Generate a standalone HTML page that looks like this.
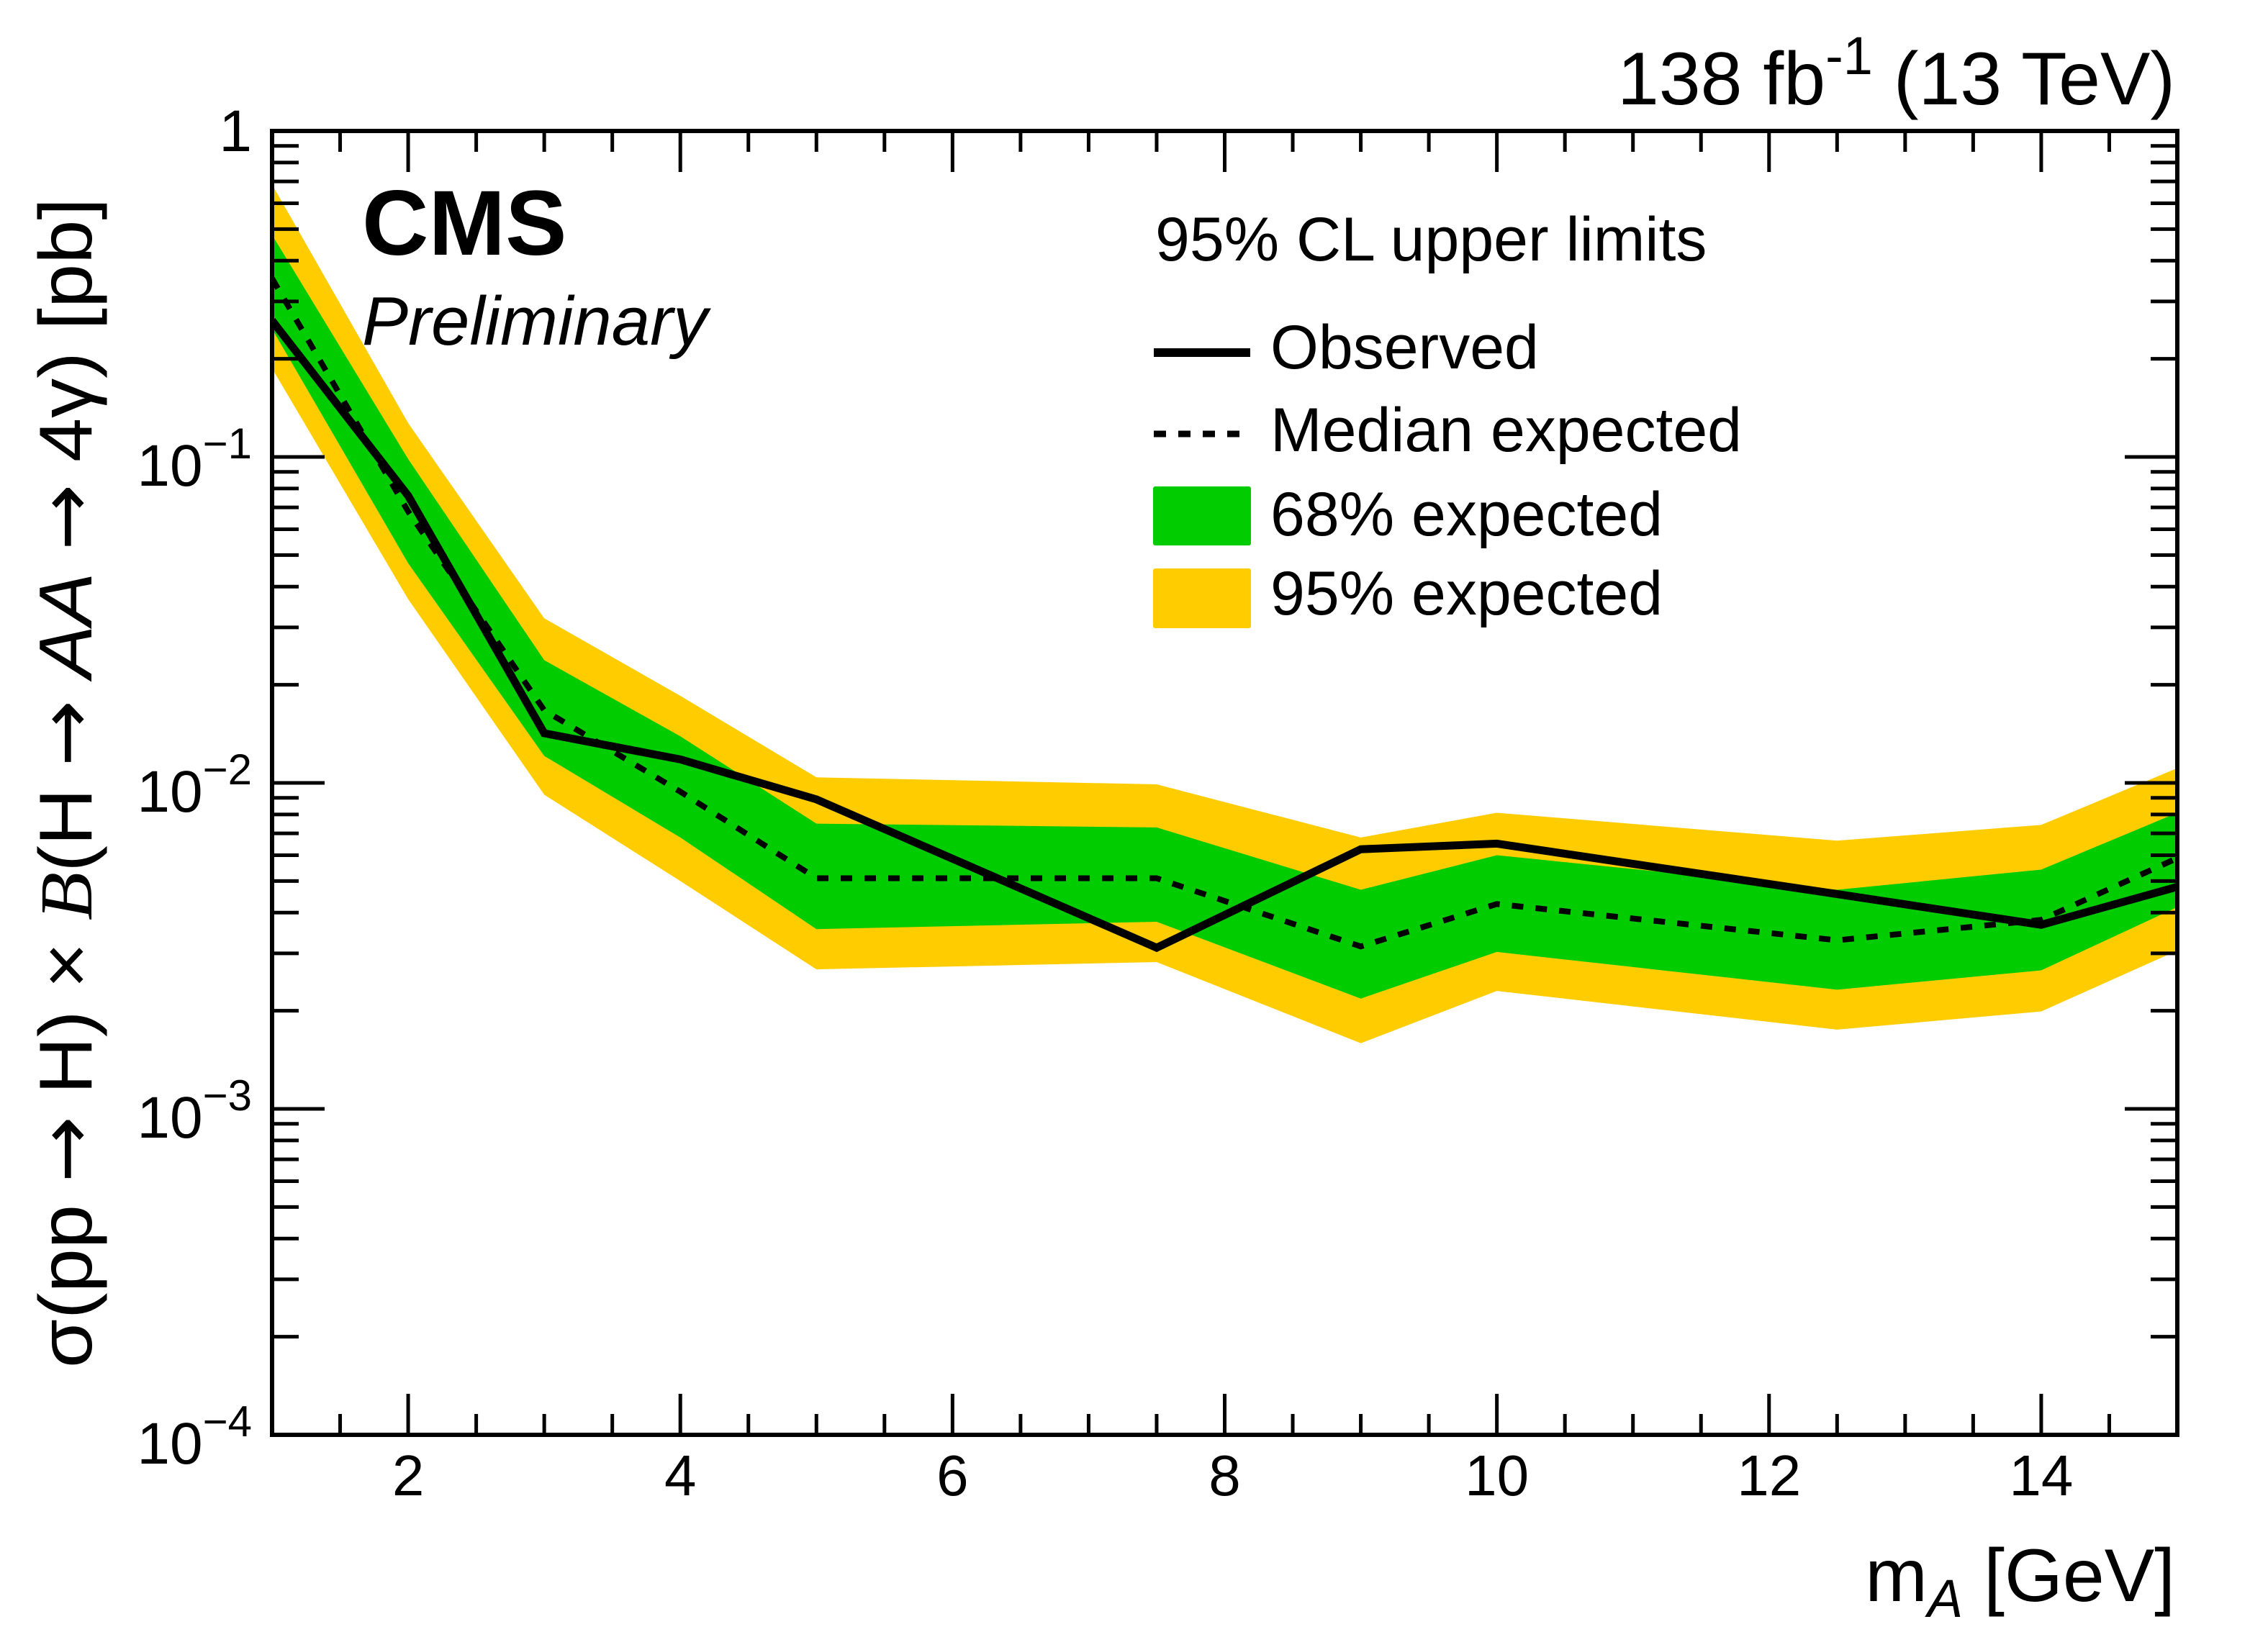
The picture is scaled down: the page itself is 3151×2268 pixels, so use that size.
<!DOCTYPE html>
<html><head><meta charset="utf-8">
<style>
html,body{margin:0;padding:0;background:#fff;}
svg{display:block;font-family:"Liberation Sans",Arial,sans-serif;}
.arr{font-family:"DejaVu Sans",sans-serif;}
</style></head>
<body>
<svg id="chart" width="3151" height="2268" viewBox="0 0 3151 2268" xmlns="http://www.w3.org/2000/svg">
<rect x="0" y="0" width="3151" height="2268" fill="#fff"/>
<g id="bands"></g>
<g id="lines"></g>
<g id="axes"></g>
<text x="3022" y="145" font-size="104" text-anchor="end">138 fb<tspan dy="-42" font-size="74">-1</tspan><tspan dy="42"> (13 TeV)</tspan></text>
<text x="503" y="354" font-size="128" font-weight="bold">CMS</text>
<text x="503" y="479" font-size="96" font-style="italic">Preliminary</text>
<g>
<text x="1605" y="362" font-size="86">95% CL upper limits</text>
<line x1="1603" y1="490" x2="1737" y2="490" stroke="#000" stroke-width="12"/>
<text x="1765" y="512" font-size="86">Observed</text>
<line x1="1603" y1="603" x2="1722" y2="603" stroke="#000" stroke-width="9" stroke-dasharray="17 17"/>
<text x="1765" y="627" font-size="86">Median expected</text>
<rect x="1602" y="676" width="136" height="82" rx="3" fill="#00cc00"/>
<text x="1765" y="744" font-size="86">68% expected</text>
<rect x="1602" y="790" width="136" height="83" rx="3" fill="#ffcc00"/>
<text x="1765" y="854" font-size="86">95% expected</text>
</g>
<text x="3022" y="2225" font-size="104" text-anchor="end">m<tspan dy="22" font-size="74" font-style="italic">A</tspan><tspan dy="-22"> [GeV]</tspan></text>
<text transform="translate(127,1088) rotate(-90)" font-size="104" text-anchor="middle" textLength="1626" lengthAdjust="spacingAndGlyphs">σ(pp <tspan class="arr">→</tspan> H) × <tspan font-family="Liberation Serif" font-style="italic">B</tspan>(H <tspan class="arr">→</tspan> <tspan font-style="italic">AA</tspan> <tspan class="arr">→</tspan> 4γ) [pb]</text>
</svg>
<script>
const masses = [1, 2, 3, 4, 5, 7.5, 9, 10, 12.5, 14, 15];
const observed = [0.262, 0.076, 0.0142, 0.0118, 0.0089, 0.00312, 0.00626, 0.00651, 0.00456, 0.00367, 0.0048];
const median = [0.353, 0.068, 0.0167, 0.0094, 0.0051, 0.0051, 0.00315, 0.00425, 0.00329, 0.0038, 0.00588];
const band68Hi = [0.48, 0.0985, 0.0238, 0.0139, 0.0075, 0.0073, 0.0047, 0.006, 0.0047, 0.00542, 0.0081];
const band68Lo = [0.247, 0.0472, 0.0121, 0.0068, 0.00356, 0.00375, 0.00218, 0.00303, 0.00232, 0.00266, 0.00416];
const band95Hi = [0.685, 0.127, 0.032, 0.0185, 0.0104, 0.0099, 0.0068, 0.0081, 0.00665, 0.00743, 0.0111];
const band95Lo = [0.187, 0.0366, 0.0092, 0.005, 0.00268, 0.00282, 0.00159, 0.0023, 0.00175, 0.00199, 0.00306];
const xTickLabels = [2, 4, 6, 8, 10, 12, 14];
const yDecades = [0, -1, -2, -3, -4];

const L = 378, R = 3025, T = 182, B = 1994;
const xMin = 1, xMax = 15, yLogMax = 0, yLogMin = -4;
const NS = 'http://www.w3.org/2000/svg';
function xs(m) { return L + (m - xMin) / (xMax - xMin) * (R - L); }
function ys(v) { return T + (yLogMax - Math.log10(v)) / (yLogMax - yLogMin) * (B - T); }
function mk(tag, attrs, parent) {
  const e = document.createElementNS(NS, tag);
  for (const k in attrs) e.setAttribute(k, attrs[k]);
  parent.appendChild(e);
  return e;
}
function bandPath(hi, lo) {
  let d = '';
  masses.forEach((m, i) => { d += (i ? 'L' : 'M') + xs(m).toFixed(1) + ',' + ys(hi[i]).toFixed(1); });
  for (let i = masses.length - 1; i >= 0; i--) d += 'L' + xs(masses[i]).toFixed(1) + ',' + ys(lo[i]).toFixed(1);
  return d + 'Z';
}
function linePts(vals) { return masses.map((m, i) => xs(m).toFixed(1) + ',' + ys(vals[i]).toFixed(1)).join(' '); }

const defs = mk('defs', {}, document.getElementById('chart'));
const cp = mk('clipPath', { id: 'plotclip' }, defs);
mk('rect', { x: L, y: T, width: R - L, height: B - T }, cp);

const bands = document.getElementById('bands');
bands.setAttribute('clip-path', 'url(#plotclip)');
const b95 = mk('path', { d: bandPath(band95Hi, band95Lo), fill: '#ffcc00' }, bands);


const b68 = mk('path', { d: bandPath(band68Hi, band68Lo), fill: '#00cc00' }, bands);



const lines = document.getElementById('lines');
lines.setAttribute('clip-path', 'url(#plotclip)');
const med = mk('polyline', { points: linePts(median), fill: 'none', stroke: '#000', 'stroke-width': 8, 'stroke-dasharray': '16 17' }, lines);


const obs = mk('polyline', { points: linePts(observed), fill: 'none', stroke: '#000', 'stroke-width': 11, 'stroke-linejoin': 'miter' }, lines);



const axes = document.getElementById('axes');
const frame = mk('rect', { x: L, y: T, width: R - L, height: B - T, fill: 'none', stroke: '#000', 'stroke-width': 6 }, axes);


for (let k = 0; k <= (xMax - xMin) * 2; k++) {
  const m = xMin + k * 0.5;
  const major = (m % 2 === 0);
  const len = major ? 57 : 29;
  const x = xs(m);
  const t1 = mk('line', { x1: x, y1: B, x2: x, y2: B - len, stroke: '#000', 'stroke-width': 5 }, axes);
  
  
  const t2 = mk('line', { x1: x, y1: T, x2: x, y2: T + len, stroke: '#000', 'stroke-width': 5 }, axes);
  
  
}
xTickLabels.forEach(v => {
  const t = mk('text', { x: xs(v), y: 2078, 'font-size': 80, 'text-anchor': 'middle' }, axes);
  t.textContent = String(v);
  
  
});
for (let d = yLogMin; d < yLogMax; d++) {
  for (let s = 1; s <= 9; s++) {
    const v = s * Math.pow(10, d);
    const y = ys(v);
    const len = s === 1 ? 73 : 37;
    const a = mk('line', { x1: L, y1: y, x2: L + len, y2: y, stroke: '#000', 'stroke-width': 5 }, axes);
    
    
    const b = mk('line', { x1: R, y1: y, x2: R - len, y2: y, stroke: '#000', 'stroke-width': 5 }, axes);
    
    
  }
}
yDecades.forEach(d => {
  const y = ys(Math.pow(10, d));
  const t = mk('text', { x: 350, y: y + 40, 'font-size': 82, 'text-anchor': 'end' }, axes);
  if (d === 0) {
    t.textContent = '1';
    t.setAttribute('y', y + 28);
  } else {
    t.textContent = '10';
    const sp = mk('tspan', { dy: -38, 'font-size': 60 }, t);
    sp.textContent = '\u2212' + (-d);
  }
  
  
});
</script>
</body></html>
